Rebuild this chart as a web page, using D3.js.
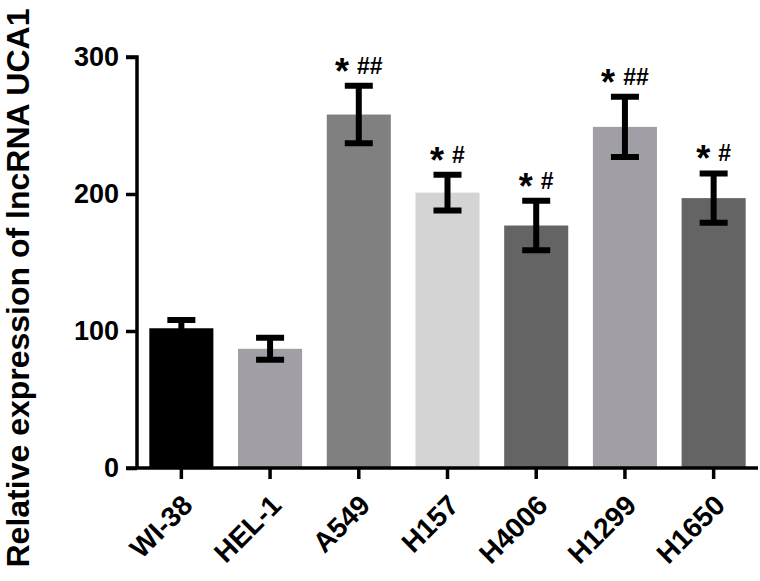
<!DOCTYPE html>
<html>
<head>
<meta charset="utf-8">
<script src="https://cdn.jsdelivr.net/npm/d3@7"></script>
<style>
    html, body { margin: 0; padding: 0; background: #fff; }
    svg { display: block; font-family: 'Liberation Sans', Arial, sans-serif; }
</style>
</head>
<body>
<svg id="chart" width="760" height="581"></svg>
<script>
'use strict';

var cellLines = ['WI-38', 'HEL-1', 'A549', 'H157', 'H4006', 'H1299', 'H1650'];
var meanValues = [102, 87, 258, 201, 177, 249, 197];
var errorValues = [6, 8, 21, 13, 18, 22, 18];
var barColors = ['#000000', '#a19fa5', '#808080', '#d4d4d4', '#646464', '#a19fa5', '#646464'];
var starMarks = ['', '', '*', '*', '*', '*', '*'];
var hashMarks = ['', '', '##', '#', '#', '##', '#'];
var yTicks = [0, 100, 200, 300];
var yTitle = 'Relative expression of lncRNA UCA1';

var svg = d3.select('#chart');

var rows = cellLines.map(function (name, i) {
    return {
        name: name,
        value: meanValues[i],
        err: errorValues[i],
        color: barColors[i],
        star: starMarks[i],
        hash: hashMarks[i]
    };
});

var x = d3.scaleBand()
    .domain(cellLines)
    .range([137, 758])
    .paddingInner(0.278)
    .paddingOuter(0.139);

var y = d3.scaleLinear()
    .domain([0, 300])
    .range([468, 57]);

// bars
svg.append('g')
    .selectAll('rect')
    .data(rows)
    .enter()
    .append('rect')
    .attr('x', function (d) { return x(d.name); })
    .attr('y', function (d) { return y(d.value); })
    .attr('width', x.bandwidth())
    .attr('height', function (d) { return y(0) - y(d.value); })
    .attr('fill', function (d) { return d.color; });

// error bars
var capHalf = 14;
var err = svg.append('g')
    .attr('stroke', '#000')
    .attr('stroke-width', 6)
    .attr('fill', 'none');

err.selectAll('path')
    .data(rows)
    .enter()
    .append('path')
    .attr('d', function (d) {
        var cx = x(d.name) + x.bandwidth() / 2;
        var top = y(d.value + d.err);
        var bot = y(d.value - d.err);
        return 'M' + (cx - capHalf) + ',' + top + 'H' + (cx + capHalf) +
            'M' + cx + ',' + top + 'V' + bot +
            'M' + (cx - capHalf) + ',' + bot + 'H' + (cx + capHalf);
    });

// significance marks
var marks = svg.append('g')
    .selectAll('text')
    .data(rows.filter(function (d) { return d.star || d.hash; }))
    .enter()
    .append('text')
    .attr('x', function (d) { return x(d.name) + x.bandwidth() / 2; })
    .attr('y', function (d) { return y(d.value + d.err) - 2; })
    .attr('text-anchor', 'middle')
    .attr('font-weight', 'bold')
    .attr('fill', '#000');

marks.append('tspan')
    .attr('font-size', 36)
    .text(function (d) { return d.star; });

marks.append('tspan')
    .attr('font-size', 23)
    .attr('dx', 8)
    .attr('dy', -10)
    .text(function (d) { return d.hash; });

// y axis
var yAxis = svg.append('g')
    .attr('transform', 'translate(137,0)')
    .call(d3.axisLeft(y).tickValues(yTicks).tickSize(11).tickPadding(7));

yAxis.selectAll('path, line')
    .attr('stroke', '#000')
    .attr('stroke-width', 3.5);
yAxis.select('.domain').attr('d', 'M-11,' + y(300) + 'H0V' + y(0));
yAxis.selectAll('text')
    .attr('font-size', 27)
    .attr('font-weight', 'bold')
    .attr('font-family', 'Liberation Sans, Arial, sans-serif')
    .attr('fill', '#000');

// x axis
var xAxis = svg.append('g')
    .attr('transform', 'translate(0,' + y(0) + ')')
    .call(d3.axisBottom(x).tickSize(11).tickSizeOuter(0));

xAxis.selectAll('path, line')
    .attr('stroke', '#000')
    .attr('stroke-width', 3.5);
xAxis.select('.domain').attr('d', 'M126,0H758');
xAxis.selectAll('text')
    .attr('font-size', 28)
    .attr('font-weight', 'bold')
    .attr('font-family', 'Liberation Sans, Arial, sans-serif')
    .attr('fill', '#000')
    .attr('text-anchor', 'end')
    .attr('dy', null)
    .attr('y', null)
    .attr('transform', 'translate(13,39) rotate(-45)');

// y title
svg.append('text')
    .attr('transform', 'translate(29,288) rotate(-90)')
    .attr('text-anchor', 'middle')
    .attr('font-size', 32)
    .attr('font-weight', 'bold')
    .attr('fill', '#000')
    .text(yTitle);
</script>
</body>
</html>
